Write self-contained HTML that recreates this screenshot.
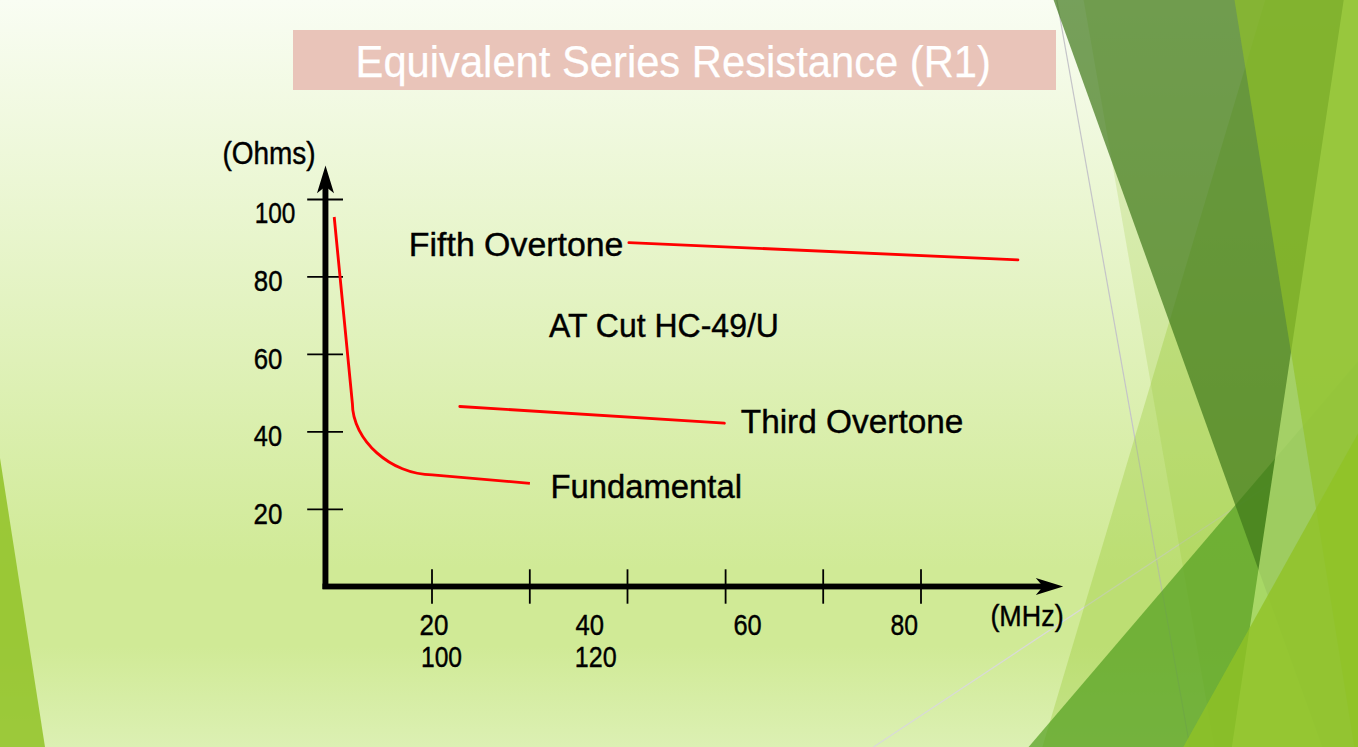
<!DOCTYPE html>
<html><head><meta charset="utf-8">
<style>
html,body{margin:0;padding:0;width:1358px;height:747px;overflow:hidden;}
svg{display:block;}
text{font-family:"Liberation Sans",sans-serif;}
</style></head>
<body>
<svg width="1358" height="747" viewBox="0 0 1358 747">
<defs>
<linearGradient id="bg" x1="0" y1="0" x2="0" y2="1">
<stop offset="0" stop-color="#f9fdf3"/>
<stop offset="0.76" stop-color="#d0ea96"/>
<stop offset="0.865" stop-color="#d0ea96"/>
<stop offset="1" stop-color="#dcf0b3"/>
</linearGradient>
</defs>
<rect x="0" y="0" width="1358" height="747" fill="url(#bg)"/>
<!-- background shapes -->
<line x1="1056.8" y1="0" x2="1189.9" y2="747" stroke="#c4c4c8" stroke-width="1.2"/>
<line x1="873.5" y1="747" x2="1358" y2="426" stroke="#d9d9d9" stroke-width="1.2"/>
<polygon points="1265.3,0 1358,0 1358,747 1042.4,747" fill="#90c226" fill-opacity="0.3"/>
<polygon points="1083.6,0 1358,0 1358,747 1214.5,747" fill="#90c226" fill-opacity="0.2"/>
<polygon points="1028.6,747 1358,747 1358,361.6" fill="#54a021" fill-opacity="0.72"/>
<polygon points="1053.6,0 1358,0 1358,747 1322.3,747" fill="#3f7819" fill-opacity="0.7"/>
<polygon points="1343.7,0 1358,0 1358,747 1231.9,747" fill="#c1e97c" fill-opacity="0.7"/>
<polygon points="1234.5,0 1358,0 1358,747 1354.3,747" fill="#90c226" fill-opacity="0.65"/>
<polygon points="1183.3,747 1358,747 1358,433.5" fill="#90c226" fill-opacity="0.8"/>
<polygon points="0,458 45,747 0,747" fill="#90c226" fill-opacity="0.85"/>

<!-- title -->
<rect x="293" y="30" width="763" height="60" fill="#e9c4b9"/>

<!-- axes -->
<g fill="#000">
<rect x="322.5" y="182" width="5.9" height="407"/>
<polygon points="325.5,165.5 334,193.2 325.5,186.4 317,193.2"/>
<rect x="322.5" y="583.6" width="722" height="5.8"/>
<polygon points="1063.2,586.5 1035.8,595 1043,586.5 1035.8,578"/>
</g>
<g stroke="#000" stroke-width="1.8">
<line x1="307.2" y1="199.5" x2="343" y2="199.5"/>
<line x1="307.2" y1="276.8" x2="343" y2="276.8"/>
<line x1="307.2" y1="354.3" x2="343" y2="354.3"/>
<line x1="307.2" y1="431.8" x2="343" y2="431.8"/>
<line x1="307.2" y1="509.3" x2="343" y2="509.3"/>
<line x1="432" y1="569.3" x2="432" y2="603.7"/>
<line x1="529.8" y1="569.3" x2="529.8" y2="603.7"/>
<line x1="627.5" y1="569.3" x2="627.5" y2="603.7"/>
<line x1="725.6" y1="569.3" x2="725.6" y2="603.7"/>
<line x1="823.2" y1="569.3" x2="823.2" y2="603.7"/>
<line x1="921" y1="569.3" x2="921" y2="603.7"/>
</g>

<!-- red curves -->
<g stroke="#ff0000" stroke-width="2.85" fill="none">
<path d="M334.2,217 L352.4,403.6 C352.4,440 391,474.8 432.4,474.8 L529.9,483.3"/>
<line x1="459.8" y1="406.5" x2="724.4" y2="423.2" stroke-linecap="round"/>
<line x1="628.9" y1="242.6" x2="1017.9" y2="259.9" stroke-linecap="round"/>
</g>

<text x="355.56" y="77.20" font-size="44.00" fill="#ffffff" stroke="#fff" stroke-width="0.25" textLength="635.38" lengthAdjust="spacingAndGlyphs">Equivalent Series Resistance (R1)</text>
<text x="222.48" y="163.90" font-size="30.50" fill="#000" stroke="#000" stroke-width="0.4" textLength="93.19" lengthAdjust="spacingAndGlyphs">(Ohms)</text>
<text x="254.65" y="223.00" font-size="29.20" fill="#000" stroke="#000" stroke-width="0.4" textLength="40.76" lengthAdjust="spacingAndGlyphs">100</text>
<text x="253.83" y="291.00" font-size="29.20" fill="#000" stroke="#000" stroke-width="0.4" textLength="28.69" lengthAdjust="spacingAndGlyphs">80</text>
<text x="253.72" y="369.00" font-size="29.20" fill="#000" stroke="#000" stroke-width="0.4" textLength="28.70" lengthAdjust="spacingAndGlyphs">60</text>
<text x="253.83" y="446.00" font-size="29.20" fill="#000" stroke="#000" stroke-width="0.4" textLength="28.12" lengthAdjust="spacingAndGlyphs">40</text>
<text x="253.49" y="524.00" font-size="29.20" fill="#000" stroke="#000" stroke-width="0.4" textLength="28.85" lengthAdjust="spacingAndGlyphs">20</text>
<text x="419.46" y="635.00" font-size="29.20" fill="#000" stroke="#000" stroke-width="0.4" textLength="28.93" lengthAdjust="spacingAndGlyphs">20</text>
<text x="421.00" y="667.00" font-size="29.20" fill="#000" stroke="#000" stroke-width="0.4" textLength="41.05" lengthAdjust="spacingAndGlyphs">100</text>
<text x="575.60" y="635.00" font-size="29.20" fill="#000" stroke="#000" stroke-width="0.4" textLength="28.49" lengthAdjust="spacingAndGlyphs">40</text>
<text x="574.85" y="667.00" font-size="29.20" fill="#000" stroke="#000" stroke-width="0.4" textLength="41.85" lengthAdjust="spacingAndGlyphs">120</text>
<text x="733.38" y="635.00" font-size="29.20" fill="#000" stroke="#000" stroke-width="0.4" textLength="28.24" lengthAdjust="spacingAndGlyphs">60</text>
<text x="890.51" y="635.00" font-size="29.20" fill="#000" stroke="#000" stroke-width="0.4" textLength="27.51" lengthAdjust="spacingAndGlyphs">80</text>
<text x="990.40" y="625.90" font-size="30.20" fill="#000" stroke="#000" stroke-width="0.4" textLength="73.21" lengthAdjust="spacingAndGlyphs">(MHz)</text>
<text x="408.86" y="256.00" font-size="33.00" fill="#000" stroke="#000" stroke-width="0.4" textLength="214.53" lengthAdjust="spacingAndGlyphs">Fifth Overtone</text>
<text x="549.08" y="337.00" font-size="33.00" fill="#000" stroke="#000" stroke-width="0.4" textLength="229.82" lengthAdjust="spacingAndGlyphs">AT Cut HC-49/U</text>
<text x="740.76" y="433.00" font-size="33.00" fill="#000" stroke="#000" stroke-width="0.4" textLength="222.61" lengthAdjust="spacingAndGlyphs">Third Overtone</text>
<text x="550.38" y="498.00" font-size="33.00" fill="#000" stroke="#000" stroke-width="0.4" textLength="191.56" lengthAdjust="spacingAndGlyphs">Fundamental</text>
</svg>
</body></html>
